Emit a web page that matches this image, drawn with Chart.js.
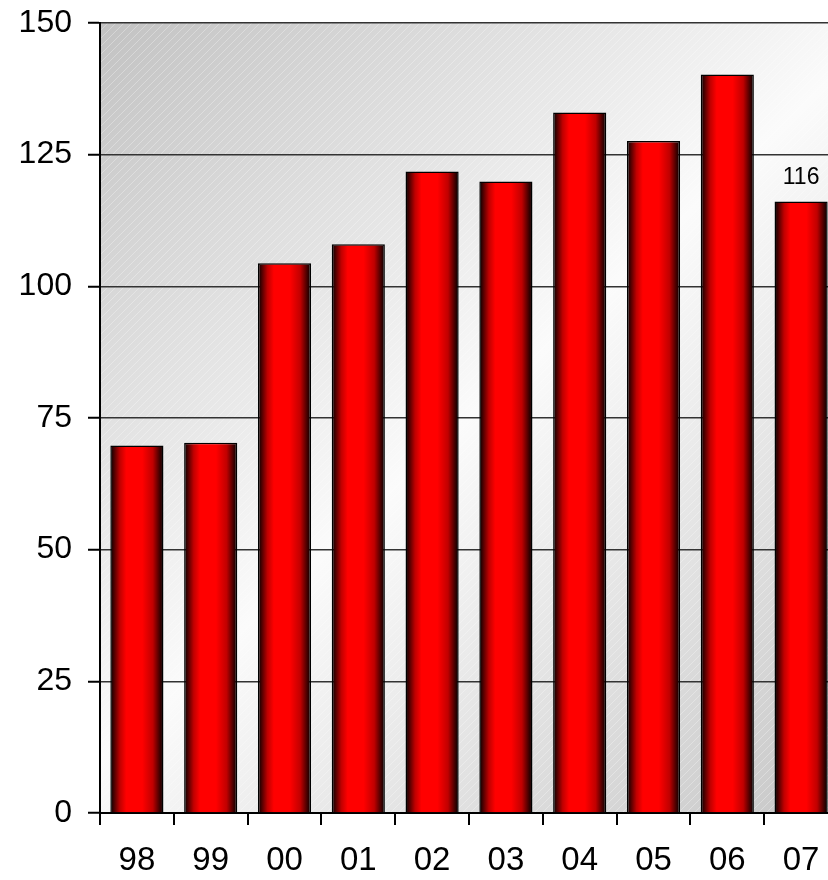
<!DOCTYPE html>
<html>
<head>
<meta charset="utf-8">
<script src="https://cdn.jsdelivr.net/npm/chart.js@4/dist/chart.umd.min.js"></script>
<style>
  html, body { margin: 0; padding: 0; background: #fff; overflow: hidden; }
  #wrap { width: 828px; height: 880px; overflow: hidden; }
</style>
</head>
<body>
<div id="wrap"><canvas id="bars" width="838" height="880"></canvas></div>
<script>
// years on the x axis
const years = ['98', '99', '00', '01', '02', '03', '04', '05', '06', '07']
// bar heights
const values = [69.8, 70.3, 104.4, 108.0, 121.8, 119.9, 133.0, 127.6, 140.2, 116.1]
// which bars carry a value label
const valueLabels = [null, null, null, null, null, null, null, null, null, '116']
// y axis ticks
const yTicks = [0, 25, 50, 75, 100, 125, 150]

const FONT = "'Liberation Sans', Arial, sans-serif"
const BAR_PCT = 0.72

// cylinder look: dark edges, bright red a little left of centre
function barGradient(ctx, left, right) {
  const g = ctx.createLinearGradient(left, 0, right, 0)
  g.addColorStop(0, '#000000')
  g.addColorStop(0.06, '#400000')
  g.addColorStop(0.18, '#c00000')
  g.addColorStop(0.3, '#ff0000')
  g.addColorStop(0.6, '#ff0000')
  g.addColorStop(0.8, '#c00000')
  g.addColorStop(0.93, '#400000')
  g.addColorStop(1, '#000000')
  return g
}

// grey → white → grey diagonal wash with faint hatch, behind everything
const plotBackground = {
  id: 'plotBackground',
  beforeDraw(chart) {
    const { ctx, chartArea: a } = chart
    ctx.save()
    const g = ctx.createLinearGradient(a.left, a.top, a.right, a.bottom)
    g.addColorStop(0, '#c2c2c2')
    g.addColorStop(0.5, '#fbfbfb')
    g.addColorStop(1, '#c6c6c6')
    ctx.fillStyle = g
    ctx.fillRect(a.left, a.top, a.right - a.left, a.bottom - a.top)
    ctx.beginPath()
    ctx.rect(a.left, a.top, a.right - a.left, a.bottom - a.top)
    ctx.clip()
    ctx.strokeStyle = 'rgba(255,255,255,0.3)'
    ctx.lineWidth = 1
    const h = a.bottom - a.top
    for (let x = a.left - h; x < a.right; x += 8) {
      ctx.beginPath()
      ctx.moveTo(x, a.bottom)
      ctx.lineTo(x + h, a.top)
      ctx.stroke()
    }
    ctx.restore()
  }
}

// value text above chosen bars
const barValues = {
  id: 'barValues',
  afterDatasetsDraw(chart) {
    const { ctx } = chart
    const meta = chart.getDatasetMeta(0)
    ctx.save()
    ctx.font = '23px ' + FONT
    ctx.fillStyle = '#000'
    ctx.textAlign = 'center'
    ctx.textBaseline = 'bottom'
    meta.data.forEach((bar, i) => {
      if (valueLabels[i]) ctx.fillText(valueLabels[i], bar.x, bar.y - 12)
    })
    ctx.restore()
  }
}

const barConfig = {
  type: 'bar',
  data: {
    labels: years,
    datasets: [
      {
        data: values,
        backgroundColor(c) {
          const chart = c.chart
          const x = chart.scales.x
          if (!chart.chartArea || !x || c.dataIndex === undefined) return '#e00000'
          const cx = x.getPixelForValue(c.dataIndex)
          const half = (x.width / years.length) * BAR_PCT / 2
          return barGradient(chart.ctx, cx - half, cx + half)
        },
        borderColor: '#000',
        borderWidth: 1.5,
        barPercentage: BAR_PCT,
        categoryPercentage: 1,
      },
    ],
  },
  options: {
    responsive: false,
    animation: false,
    devicePixelRatio: 1,
    layout: { padding: { top: 23, right: 0, left: 0, bottom: 0 } },
    plugins: { legend: { display: false }, tooltip: { enabled: false } },
    scales: {
      x: {
        grid: {
          offset: true,
          drawOnChartArea: false,
          drawTicks: true,
          tickLength: 12,
          color: '#000',
          lineWidth: 2,
        },
        border: { color: '#000', width: 2 },
        ticks: { color: '#000', font: { family: FONT, size: 33 }, padding: 16 },
        afterFit(scale) {
          scale.height = 67
          scale.paddingLeft = 0
          scale.paddingRight = 0
        },
      },
      y: {
        min: 0,
        max: 150,
        afterBuildTicks(scale) { scale.ticks = yTicks.map(v => ({ value: v })) },
        grid: { color: '#333', lineWidth: 1.5, tickLength: 12, tickColor: '#000', tickWidth: 2 },
        border: { color: '#000', width: 2 },
        ticks: { color: '#000', font: { family: FONT, size: 32 }, padding: 16 },
        afterFit(scale) {
          scale.width = 100
          scale.paddingTop = 0
          scale.paddingBottom = 0
        },
      },
    },
  },
  plugins: [plotBackground, barValues],
}

window.myBars = new Chart(document.getElementById('bars'), barConfig)
</script>
</body>
</html>
